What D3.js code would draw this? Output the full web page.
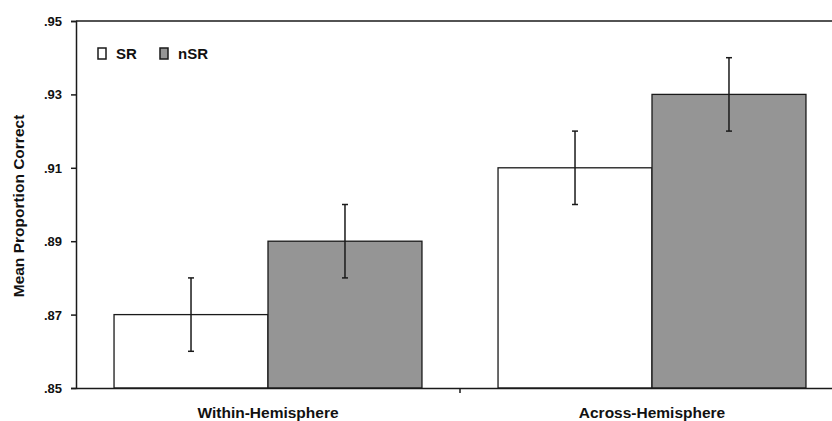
<!DOCTYPE html>
<html>
<head>
<meta charset="utf-8">
<script src="https://cdn.jsdelivr.net/npm/d3@7"></script>
<style>
  body { margin: 0; background: #fff; }
  svg { display: block; font-family: "Liberation Sans", Arial, sans-serif; }
  .lbl { font-weight: bold; font-size: 13px; fill: #111; }
  .big { font-size: 15.5px; }
  .leg { font-size: 15px; }
</style>
</head>
<body>
<svg id="chart" width="832" height="421"></svg>
<script>
// data
const categories = ['Within-Hemisphere', 'Across-Hemisphere'];
const seriesNames = ['SR', 'nSR'];
const srValues = [0.87, 0.91];
const nsrValues = [0.89, 0.93];
const srErr = [0.01, 0.01];
const nsrErr = [0.01, 0.01];
const yTicks = [0.85, 0.87, 0.89, 0.91, 0.93, 0.95];

const colors = { SR: '#ffffff', nSR: '#959595' };
const stroke = '#1a1a1a';

const svg = d3.select('#chart');

// plot area runs past the right edge of the picture
const plotLeft = 76, plotRight = 844, plotTop = 21, plotBottom = 388;

const x0 = d3.scaleBand().domain(categories).range([plotLeft, plotRight]).padding(0);
const x1 = d3.scaleBand().domain(seriesNames).range([0, x0.bandwidth()])
  .paddingInner(0).paddingOuter(0.247);
const y = d3.scaleLinear().domain([0.85, 0.95]).range([plotBottom, plotTop]);

// build rows for the bars
const rows = [];
categories.forEach((c, i) => {
  rows.push({ cat: c, s: 'SR', v: srValues[i], e: srErr[i] });
  rows.push({ cat: c, s: 'nSR', v: nsrValues[i], e: nsrErr[i] });
});

// top border line
svg.append('line')
  .attr('x1', plotLeft).attr('x2', plotRight)
  .attr('y1', y(0.95)).attr('y2', y(0.95))
  .attr('stroke', stroke).attr('stroke-width', 1.3);

// bars
svg.append('g')
  .selectAll('rect')
  .data(rows)
  .join('rect')
  .attr('x', d => x0(d.cat) + x1(d.s))
  .attr('y', d => y(d.v))
  .attr('width', x1.bandwidth())
  .attr('height', d => y(0.85) - y(d.v))
  .attr('fill', d => colors[d.s])
  .attr('stroke', stroke)
  .attr('stroke-width', 1.3);

// error bars
const eb = svg.append('g').attr('stroke', stroke).attr('stroke-width', 1.5);
rows.forEach(d => {
  const cx = x0(d.cat) + x1(d.s) + x1.bandwidth() / 2;
  eb.append('line').attr('x1', cx).attr('x2', cx)
    .attr('y1', y(d.v - d.e)).attr('y2', y(d.v + d.e));
  [d.v - d.e, d.v + d.e].forEach(v => {
    eb.append('line').attr('x1', cx - 3).attr('x2', cx + 3)
      .attr('y1', y(v)).attr('y2', y(v));
  });
});

// y axis
const yAxis = svg.append('g')
  .attr('transform', `translate(${plotLeft},0)`)
  .call(d3.axisLeft(y).tickValues(yTicks).tickSize(5).tickPadding(9)
    .tickFormat(d => d3.format('.2f')(d).replace(/^0/, '')));
yAxis.select('.domain').attr('stroke', stroke).attr('stroke-width', 1.5);
yAxis.selectAll('.tick line').attr('stroke', stroke).attr('stroke-width', 1.5);
yAxis.selectAll('.tick text').attr('class', 'lbl').attr('dy', '0.35em');

// x axis
const xAxis = svg.append('g')
  .attr('transform', `translate(0,${plotBottom})`)
  .call(d3.axisBottom(x0).tickSize(0).tickPadding(25));
xAxis.select('.domain').attr('stroke', stroke).attr('stroke-width', 1.5);
xAxis.selectAll('.tick text').attr('class', 'lbl big').attr('dy', '0.35em');
// tick marks between categories
xAxis.selectAll('.sep')
  .data(categories.slice(1))
  .join('line')
  .attr('x1', d => x0(d)).attr('x2', d => x0(d))
  .attr('y1', 0).attr('y2', 5)
  .attr('stroke', stroke).attr('stroke-width', 1.5);

// y title
svg.append('text')
  .attr('class', 'lbl big')
  .attr('transform', `translate(24,206) rotate(-90)`)
  .attr('text-anchor', 'middle')
  .text('Mean Proportion Correct');

// legend
const legend = svg.append('g').attr('transform', 'translate(98,48)');
const legX = [0, 62];
seriesNames.forEach((s, i) => {
  const g = legend.append('g').attr('transform', `translate(${legX[i]},0)`);
  g.append('rect').attr('width', 8).attr('height', 11)
    .attr('fill', colors[s]).attr('stroke', stroke).attr('stroke-width', 1.5);
  g.append('text').attr('class', 'lbl leg').attr('x', 18).attr('y', 6)
    .attr('dy', '0.35em').text(s);
});
</script>
</body>
</html>
